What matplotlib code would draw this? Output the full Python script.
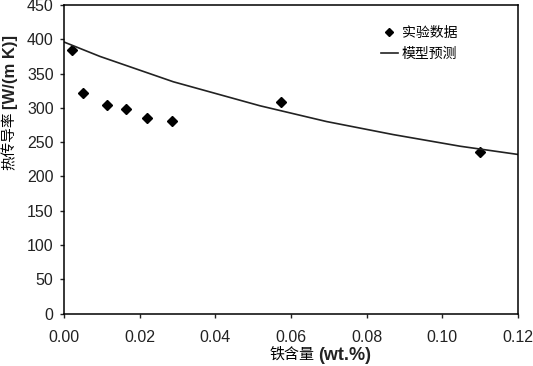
import matplotlib
matplotlib.use("Agg")
import matplotlib.pyplot as plt

exp_x = [0.0022, 0.0051, 0.0113, 0.0163, 0.0219, 0.0286, 0.0574, 0.110]
exp_y = [384, 321, 304, 298, 285, 281, 309, 236]

model_x = [0.0, 0.0095, 0.0289, 0.0518, 0.0694, 0.087, 0.1047, 0.12]
model_y = [396, 375, 338, 303, 280, 261, 244, 232]

xticks = [0.00, 0.02, 0.04, 0.06, 0.08, 0.10, 0.12]
yticks = [0, 50, 100, 150, 200, 250, 300, 350, 400, 450]

fam = ['Liberation Sans', 'Noto Sans CJK SC']
cjk = ['Noto Sans CJK SC', 'Liberation Sans']
plt.rcParams['font.family'] = fam

W, H = 533, 366
fig = plt.figure(figsize=(W / 100, H / 100), dpi=100)
ax = fig.add_axes([64 / W, 1 - 313.5 / H, 454 / W, 308.5 / H])

ax.plot(exp_x, exp_y, linestyle='none', marker='D', markersize=5.5, color='black', label='实验数据')
ax.plot(model_x, model_y, color='#222222', linewidth=1.2, label='模型预测')

ax.set_xlim(0, 0.12)
ax.set_ylim(0, 450)
ax.set_xticks(xticks)
ax.set_xticklabels([f"{v:.2f}" for v in xticks])
ax.set_yticks(yticks)
ax.tick_params(axis='both', direction='out', length=3, width=1, labelsize=11.5, colors='#222222')
ax.tick_params(axis='x', pad=9)
ax.tick_params(axis='y', pad=4.5)
for s in ax.spines.values():
    s.set_linewidth(1.1)
    s.set_color('black')

# x label: Chinese part normal, unit part bold
t1 = fig.text(270 / W, 1 - 355 / H, '铁含量', fontsize=10.8, family=cjk, ha='left', va='center')
ax.annotate('(wt.%)', xy=(1, 0.5), xycoords=t1, xytext=(2, 0), textcoords='offset points',
            fontsize=13, weight='bold', family=fam, ha='left', va='center', color='#222222',
            annotation_clip=False)

# y label
t3 = fig.text(10 / W, 1 - 170 / H, '热传导率', fontsize=10.5, family=cjk, rotation=90,
              ha='center', va='bottom')
ax.annotate('[W/(m K)]', xy=(0.5, 1), xycoords=t3, xytext=(0, 2), textcoords='offset points',
            fontsize=12, weight='bold', family=fam, rotation=90, ha='center', va='bottom',
            color='#222222', annotation_clip=False)

leg = ax.legend(loc='upper left', bbox_to_anchor=(381 / W, 1 - 26 / H), bbox_transform=fig.transFigure,
                frameon=False, prop={'family': cjk, 'size': 10}, markerscale=0.8,
                handlelength=1.2, handletextpad=0.3, borderpad=0, borderaxespad=0, labelspacing=0.5)

fig.savefig('out.png', dpi=100)
